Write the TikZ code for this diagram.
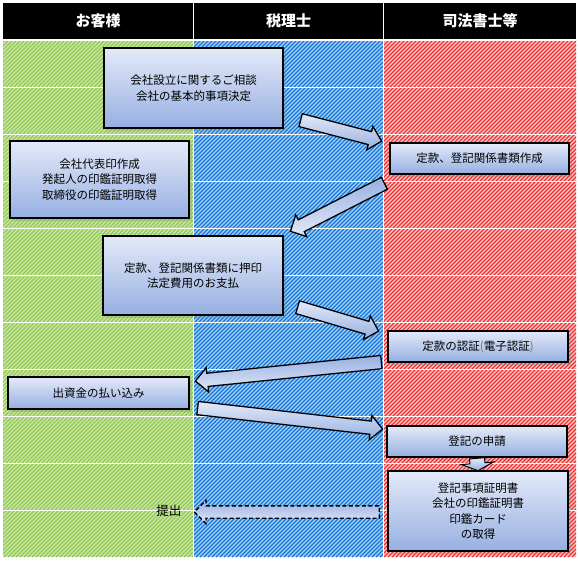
\documentclass[tikz,border=0pt]{standalone}
\usepackage{fontspec}
\setmainfont{Noto Sans CJK JP}
\usetikzlibrary{arrows.meta, positioning, shapes.arrows, shadows, calc}

\definecolor{greenbg}{RGB}{205,232,165}
\definecolor{greenln}{RGB}{145,200,85}
\definecolor{bluebg}{RGB}{165,212,248}
\definecolor{blueln}{RGB}{20,115,215}
\definecolor{redbg}{RGB}{255,205,205}
\definecolor{redln}{RGB}{240,45,45}
\definecolor{boxtop}{RGB}{228,234,248}
\definecolor{boxbot}{RGB}{150,175,226}
\definecolor{parenbrown}{RGB}{150,110,40}

% block arrow from one named point to another
\newcommand{\flowarrow}[3][]{%
  \path let \p1=(#2), \p2=(#3), \n1={atan2(\y2-\y1,\x2-\x1)}, \n2={veclen(\x2-\x1,\y2-\y1)} in
    node[bigarrow, #1, minimum height=\n2, rotate=\n1, anchor=tail] at (\p1) {};}

\begin{document}
\begin{tikzpicture}[
  x=1pt, y=-1pt,
  stepbox/.style={draw=black, line width=1.6pt, top color=boxtop, bottom color=boxbot, align=center,
    font=\fontsize{11.5}{15.5}\selectfont, drop shadow={opacity=0.25, shadow xshift=3pt, shadow yshift=-3pt}},
  bigarrow/.style={single arrow, draw=black, line width=1.3pt, top color=boxtop, bottom color=boxbot,
    inner xsep=0pt, inner ysep=6pt, single arrow head extend=5.5pt, single arrow head indent=0pt},
  headtext/.style={text=white, font=\fontsize{15}{15}\selectfont\bfseries},
  gridline/.style={draw=white, line width=1pt}
]
  \fill[white] (0,0) rectangle (578,560);
  \useasboundingbox (0,0) rectangle (578,560);

  % lanes
  \foreach \xa/\xb/\bg/\ln in {3/193/greenbg/greenln, 194/383/bluebg/blueln, 384/576/redbg/redln} {
    \begin{scope}
      \clip (\xa,40) rectangle (\xb,557);
      \fill[\bg] (\xa,40) rectangle (\xb,557);
      \foreach \i in {-520,-516,...,580}
        \draw[\ln, line width=1.3pt] (\i,557) -- ++(520,-520);
    \end{scope}
  }
  \foreach \y in {40,87,134,181,228,275,322,369,416,463,510}
    \draw[gridline] (3,\y) -- (576,\y);
  \draw[gridline] (193.5,3) -- (193.5,557);
  \draw[gridline] (383.5,3) -- (383.5,557);

  % header
  \fill[black] (3,3) rectangle (193,39);
  \fill[black] (194,3) rectangle (383,39);
  \fill[black] (384,3) rectangle (576,39);
  \node[headtext] (hcust) at (98,21) {お客様};
  \node[headtext] (htax) at (288.5,21) {税理士};
  \node[headtext] (hscr) at (480,21) {司法書士等};

  % steps
  \node[stepbox, minimum width=179, minimum height=80] (consult) at (193.5,88) {会社設立に関するご相談\\会社の基本的事項決定};
  \node[stepbox, minimum width=179, minimum height=77] (seal) at (99.5,179.5) {会社代表印作成\\発起人の印鑑証明取得\\取締役の印鑑証明取得};
  \node[stepbox, minimum width=179, minimum height=31] (draft) at (479.5,158.5) {定款、登記関係書類作成};
  \node[stepbox, minimum width=180, minimum height=79] (stamp) at (193,275.5) {定款、登記関係書類に押印\\法定費用のお支払};
  \node[stepbox, minimum width=180, minimum height=31] (notary) at (478,346.5) {定款の認証\textcolor{parenbrown}{(}電子認証\textcolor{parenbrown}{)}};
  \node[stepbox, minimum width=181, minimum height=32] (capital) at (98.5,393) {出資金の払い込み};
  \node[stepbox, minimum width=180, minimum height=31] (apply) at (477,441.5) {登記の申請};
  \node[stepbox, minimum width=180, minimum height=80] (obtain) at (478,511) {登記事項証明書\\会社の印鑑証明書\\印鑑カード\\の取得};
  \node[anchor=east, font=\fontsize{12.5}{12.5}\selectfont] (submit) at (185,511) {提出};

  % flow
  \coordinate (a1s) at (300,120); \coordinate (a1e) at (381,141);
  \coordinate (a2s) at (385,183); \coordinate (a2e) at (291,231);
  \coordinate (a3s) at (297,307); \coordinate (a3e) at (378,331);
  \coordinate (a4s) at (382,362); \coordinate (a4e) at (196,381);
  \coordinate (a5s) at (197,408); \coordinate (a5e) at (382,429);
  \coordinate (a6s) at (380,512); \coordinate (a6e) at (195,512);
  \flowarrow{a1s}{a1e}
  \flowarrow[top color=boxbot, bottom color=boxtop]{a2s}{a2e}
  \flowarrow{a3s}{a3e}
  \flowarrow[top color=boxbot, bottom color=boxtop]{a4s}{a4e}
  \flowarrow{a5s}{a5e}
  \flowarrow[top color=boxbot, bottom color=boxtop, dashed, dash pattern=on 4pt off 2.5pt, inner ysep=5.5pt]{a6s}{a6e}
  \flowarrow[inner ysep=7pt, single arrow head extend=8.5pt, single arrow tip angle=130, line width=1pt]{apply.south}{obtain.north}
\end{tikzpicture}
\end{document}
